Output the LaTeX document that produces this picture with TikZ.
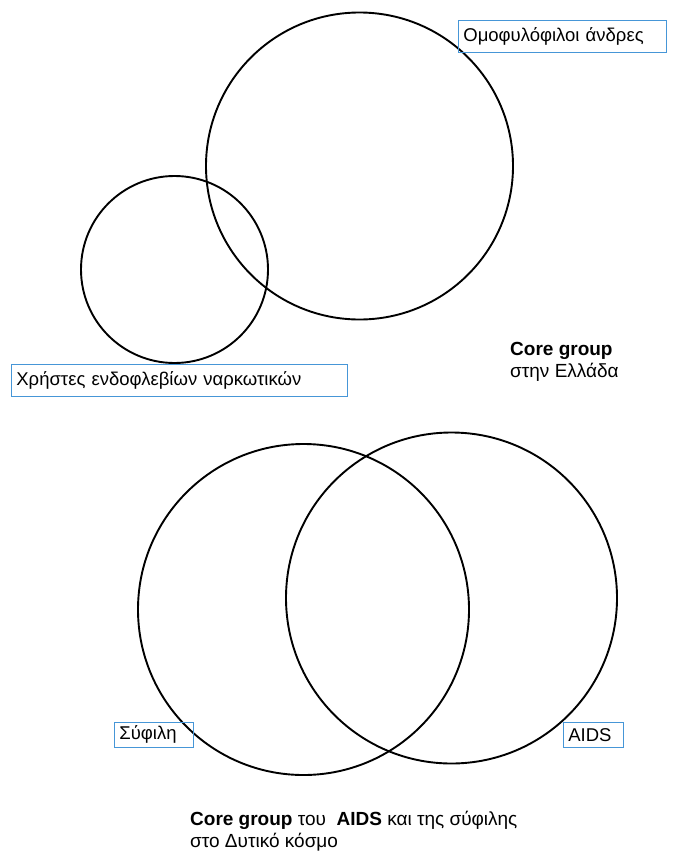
\documentclass[tikz,border=0pt]{standalone}
\usepackage{fontspec}
\setmainfont{Liberation Sans}
\definecolor{boxblue}{RGB}{70,150,215}
\tikzset{
  ring/.style = {draw = black, line width = 1.9pt},
  tag/.style = {draw = boxblue, line width = 0.8pt, anchor = north west, inner xsep = 5pt, inner ysep = 0pt, align = left, font = \fontsize{18.5}{21}\selectfont},
  caption/.style = {anchor = base west, inner sep = 0pt, align = left, font = \fontsize{19}{21.5}\selectfont}
}
\begin{document}
\begin{tikzpicture}[x = 1pt, y = -1pt]
\useasboundingbox (0,0) rectangle (678,854);
% top: two overlapping circles
\draw[ring] (359.5,166) circle (153.5);
\draw[ring] (174.5,269.5) circle (93.5);
\node[tag, text width = 198pt, minimum height = 32pt] (men) at (458,20) {Ομοφυλόφιλοι άνδρες};
\node[tag, text width = 326pt, minimum height = 32pt] (drugs) at (11,364) {Χρήστες ενδοφλεβίων ναρκωτικών};
\node[caption] (greece) at (510,377) {\textbf{Core group}\\στην Ελλάδα};
% bottom: syphilis and AIDS
\draw[ring] (303.5,609.5) circle (165.5);
\draw[ring] (451.5,598) circle (165.5);
\node[tag, text width = 69pt, minimum height = 25pt] (syph) at (114,722) {Σύφιλη};
\node[tag, text width = 50pt, minimum height = 25pt] (aids) at (563,722) {AIDS};
\node[caption] (west) at (190,847) {\textbf{Core group} του \ \textbf{AIDS} και της σύφιλης\\στο Δυτικό κόσμο};
\end{tikzpicture}
\end{document}
